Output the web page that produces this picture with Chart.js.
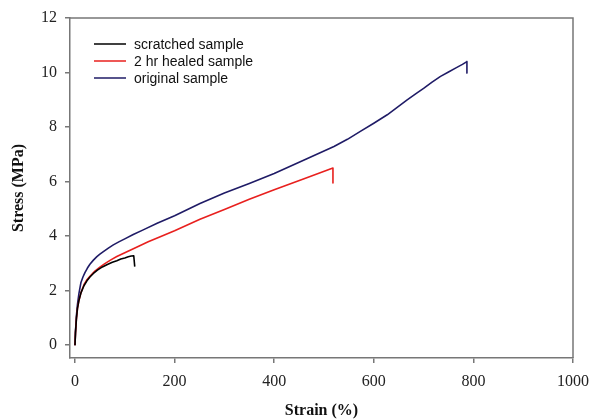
<!DOCTYPE html>
<html>
<head>
<meta charset="utf-8">
<script src="https://cdn.jsdelivr.net/npm/chart.js@4.4.1/dist/chart.umd.min.js"></script>
<style>
  html, body { margin: 0; padding: 0; background: #fff; }
  #wrap { width: 590px; height: 420px; }
</style>
</head>
<body>
<div id="wrap"><canvas id="myChart"></canvas></div>
<script>
// data (strain %, stress MPa)
const scratchedX = [0, 1, 3, 5, 8, 12, 18, 24, 30, 37, 45, 55, 65, 75, 84, 92, 100, 107, 113, 118, 120];
const scratchedY = [0, 0.45, 1.0, 1.35, 1.65, 1.92, 2.18, 2.36, 2.5, 2.63, 2.75, 2.87, 2.96, 3.04, 3.1, 3.16, 3.2, 3.24, 3.27, 3.28, 2.88];

const healedX = [0, 1, 3, 5, 8, 12, 18, 24, 30, 40, 50, 60, 72, 84, 100, 114, 130, 147, 170, 200, 251, 300, 350, 400, 460, 518, 518];
const healedY = [0, 0.45, 1.0, 1.35, 1.65, 1.92, 2.22, 2.4, 2.53, 2.72, 2.86, 2.99, 3.13, 3.25, 3.39, 3.51, 3.65, 3.79, 3.97, 4.2, 4.62, 4.98, 5.35, 5.7, 6.1, 6.5, 5.95];

const originalX = [0, 1, 3, 5, 8, 12, 16, 20, 25, 30, 37, 44, 50, 57, 67, 77, 88, 100, 117, 137, 165, 200, 251, 300, 350, 400, 459, 520, 547, 573, 600, 627, 647, 667, 684, 700, 717, 734, 750, 765, 778, 787, 787];
const originalY = [0, 0.5, 1.1, 1.5, 1.9, 2.3, 2.5, 2.66, 2.83, 2.97, 3.12, 3.25, 3.34, 3.43, 3.56, 3.68, 3.79, 3.9, 4.06, 4.23, 4.47, 4.75, 5.2, 5.58, 5.93, 6.3, 6.78, 7.29, 7.55, 7.84, 8.14, 8.45, 8.72, 9.0, 9.22, 9.42, 9.65, 9.86, 10.02, 10.17, 10.3, 10.4, 9.98];

const labels = ['scratched sample', '2 hr healed sample', 'original sample'];
const xTicks = [0, 200, 400, 600, 800, 1000];
const yTicks = [0, 2, 4, 6, 8, 10, 12];

function toPoints(xs, ys) {
  return xs.map((x, i) => ({ x: x, y: ys[i] }));
}

const axisGrey = '#777777';
const tickFont = { family: 'Liberation Serif', size: 16 };
const titleFont = { family: 'Liberation Serif', size: 16, weight: 'bold' };

// top and right frame lines
const framePlugin = {
  id: 'frame',
  afterDraw: (chart) => {
    const ctx = chart.ctx;
    const a = chart.chartArea;
    ctx.save();
    ctx.strokeStyle = axisGrey;
    ctx.lineWidth = 1.5;
    ctx.beginPath();
    ctx.moveTo(a.left, a.top);
    ctx.lineTo(a.right, a.top);
    ctx.lineTo(a.right, a.bottom);
    ctx.stroke();
    ctx.restore();
  }
};

// legend inside the plot, top left
const legendPlugin = {
  id: 'innerLegend',
  afterDraw: (chart) => {
    const ctx = chart.ctx;
    ctx.save();
    ctx.font = '14px "Liberation Sans", Arial, sans-serif';
    ctx.textBaseline = 'middle';
    chart.data.datasets.forEach((ds, i) => {
      const y = 44 + i * 17;
      ctx.strokeStyle = ds.borderColor;
      ctx.lineWidth = 1.5;
      ctx.beginPath();
      ctx.moveTo(94, y);
      ctx.lineTo(126, y);
      ctx.stroke();
      ctx.fillStyle = '#111';
      ctx.fillText(ds.label, 134, y + 1);
    });
    ctx.restore();
  }
};

const config = {
  type: 'line',
  data: {
    datasets: [
      {
        label: labels[0],
        data: toPoints(scratchedX, scratchedY),
        borderColor: '#000000',
      },
      {
        label: labels[1],
        data: toPoints(healedX, healedY),
        borderColor: '#e8201e',
      },
      {
        label: labels[2],
        data: toPoints(originalX, originalY),
        borderColor: '#1f1b66',
      },
    ]
  },
  options: {
    responsive: true,
    maintainAspectRatio: false,
    animation: false,
    layout: { padding: { left: 5, top: 18, right: 17, bottom: 0 } },
    elements: {
      line: { borderWidth: 1.6, tension: 0, fill: false, borderJoinStyle: 'round' },
      point: { radius: 0 }
    },
    plugins: {
      legend: { display: false },
      tooltip: { enabled: false }
    },
    scales: {
      x: {
        type: 'linear',
        min: -10,
        max: 1000,
        afterBuildTicks: (scale) => { scale.ticks = xTicks.map(v => ({ value: v })); },
        afterFit: (scale) => {
          scale.height = 62;
          scale.paddingRight = 0;
          scale.paddingLeft = 0;
        },
        grid: { drawOnChartArea: false, drawTicks: true, tickLength: 5, color: axisGrey, lineWidth: 1.5 },
        border: { display: true, color: axisGrey, width: 1.5 },
        ticks: { font: tickFont, color: '#222', padding: 9, maxRotation: 0, callback: (v) => String(v) },
        title: { display: true, text: 'Strain (%)', font: titleFont, color: '#111', padding: { top: 4, bottom: 0 } }
      },
      y: {
        type: 'linear',
        min: -0.47,
        max: 12,
        afterBuildTicks: (scale) => { scale.ticks = yTicks.map(v => ({ value: v })); },
        afterFit: (scale) => {
          scale.width = 65;
          scale.paddingTop = 0;
          scale.paddingBottom = 0;
        },
        grid: { drawOnChartArea: false, drawTicks: true, tickLength: 5, color: axisGrey, lineWidth: 1.5 },
        border: { display: true, color: axisGrey, width: 1.5 },
        ticks: { font: tickFont, color: '#222', padding: 8, callback: (v) => String(v) },
        title: { display: true, text: 'Stress (MPa)', font: titleFont, color: '#111', padding: { top: 4, bottom: 4 } }
      }
    }
  },
  plugins: [framePlugin, legendPlugin]
};

let chart;

function createChart() {
  const ctx = document.getElementById('myChart').getContext('2d');
  if (chart) {
    chart.destroy();
  }
  chart = new Chart(ctx, config);
}

createChart();
</script>
</body>
</html>
